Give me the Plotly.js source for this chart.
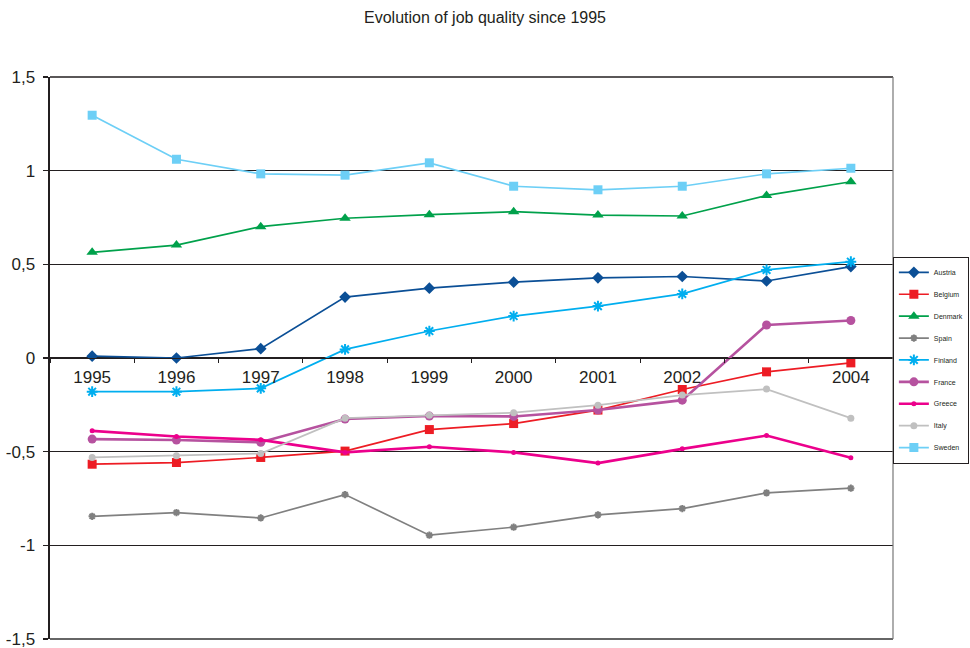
<!DOCTYPE html>
<html>
<head>
<meta charset="utf-8">
<script src="https://cdn.plot.ly/plotly-3.0.1.min.js"></script>
<style>html,body{margin:0;padding:0;background:#fff;}#chart{width:970px;height:648px;}</style>
</head>
<body>
<div id="chart"></div>
<script>
const years = ['1995','1996','1997','1998','1999','2000','2001','2002','2003','2004'];
const xTickLabels = ['1995','1996','1997','1998','1999','2000','2001','2002','','2004'];
const yTickVals = [-1.5,-1,-0.5,0,0.5,1,1.5];
const yTickText = ['-1,5','-1','-0,5','0','0,5','1','1,5'];

const austria = [0.01, 0.00, 0.05, 0.325, 0.373, 0.405, 0.428, 0.435, 0.411, 0.488];
const belgium = [-0.567, -0.558, -0.531, -0.497, -0.382, -0.350, -0.278, -0.168, -0.074, -0.026];
const denmark = [0.564, 0.603, 0.701, 0.746, 0.765, 0.781, 0.763, 0.758, 0.868, 0.941];
const spain = [-0.845, -0.825, -0.854, -0.729, -0.946, -0.903, -0.837, -0.804, -0.720, -0.695];
const finland = [-0.180, -0.180, -0.162, 0.046, 0.144, 0.224, 0.277, 0.342, 0.470, 0.514];
const france = [-0.433, -0.438, -0.450, -0.326, -0.310, -0.312, -0.278, -0.225, 0.176, 0.200];
const greece = [-0.389, -0.419, -0.437, -0.504, -0.474, -0.504, -0.561, -0.485, -0.414, -0.533];
const italy = [-0.531, -0.522, -0.510, -0.321, -0.305, -0.292, -0.252, -0.198, -0.166, -0.321];
const sweden = [1.296, 1.061, 0.983, 0.976, 1.042, 0.917, 0.898, 0.917, 0.983, 1.013];

const names = ['Austria','Belgium','Denmark','Spain','Finland','France','Greece','Italy','Sweden'];
const values = [austria, belgium, denmark, spain, finland, france, greece, italy, sweden];
const styles = [
  {color:'#0b4f96', symbol:'diamond', size:9, width:1.7},
  {color:'#ed1c24', symbol:'square', size:9, width:1.7},
  {color:'#00a14b', symbol:'triangle-up', size:10, width:1.7},
  {color:'#808080', symbol:'asterisk-open', size:6, width:1.7},
  {color:'#00aeef', symbol:'asterisk-open', size:9, width:1.7},
  {color:'#b6529f', symbol:'circle', size:9, width:2.6},
  {color:'#ec008c', symbol:'circle', size:5, width:2.6},
  {color:'#c0c0c0', symbol:'circle', size:7, width:1.7},
  {color:'#6dcff6', symbol:'square', size:9, width:1.7}
];

const traces = names.map((n, i) => ({
  type:'scatter', mode:'lines+markers', name:n, x:years, y:values[i],
  legendgroup:'g'+i,
  line:{color:styles[i].color, width:styles[i].width},
  marker:{color:styles[i].color, symbol:styles[i].symbol, size:styles[i].size,
          line:{color:styles[i].color, width: styles[i].symbol.indexOf('asterisk')>=0 ? 2 : 0}}
}));

const layout = {
  width:970, height:648,
  margin:{l:50, r:77, t:77, b:9, autoexpand:false},
  paper_bgcolor:'#fff', plot_bgcolor:'#fff',
  font:{family:'Liberation Sans, Arial, sans-serif', color:'#231f20'},
  title:{text:'Evolution of job quality since 1995', font:{size:16, color:'#231f20'},
         x:0.5, xref:'container', y:0.973, yref:'container', yanchor:'middle'},
  showlegend:true,
  legend:{x:1.09, xanchor:'right', y:0.68, yanchor:'top', bordercolor:'#231f20', borderwidth:1,
          font:{size:7, color:'#231f20'}, traceorder:'grouped', tracegroupgap:2.9, itemwidth:30},
  xaxis:{type:'category', categoryorder:'array', categoryarray:years,
         tickvals:years, ticktext:xTickLabels, range:[-0.5, 9.5],
         anchor:'free', position:0.5, showline:true, linecolor:'#231f20', linewidth:1,
         ticks:'outside', tickson:'boundaries', ticklen:4, tickcolor:'#231f20', tickwidth:1,
         showgrid:false, zeroline:false, tickfont:{size:17, color:'#231f20'}, ticklabelstandoff:4},
  yaxis:{range:[-1.5001,1.5001], tickvals:yTickVals, ticktext:yTickText,
         showgrid:true, gridcolor:'#231f20', gridwidth:1.5, zeroline:false,
         showline:true, linecolor:'#231f20', linewidth:2.5,
         ticks:'outside', ticklen:5, tickcolor:'#231f20', tickwidth:1.5,
         ticklabeloverflow:'allow',
         tickfont:{size:17, color:'#231f20'}, ticklabelstandoff:4},
  shapes:[
    {type:'line', xref:'paper', yref:'paper', x0:0, x1:1, y0:1, y1:1, line:{color:'#231f20', width:1.5}},
    {type:'line', xref:'paper', yref:'paper', x0:0, x1:1, y0:0, y1:0, line:{color:'#666', width:2}},
    {type:'line', xref:'paper', yref:'paper', x0:1, x1:1, y0:0, y1:1, line:{color:'#777', width:1.2}}
  ]
};

Plotly.newPlot('chart', traces, layout, {displayModeBar:false, staticPlot:true});
</script>
</body>
</html>
